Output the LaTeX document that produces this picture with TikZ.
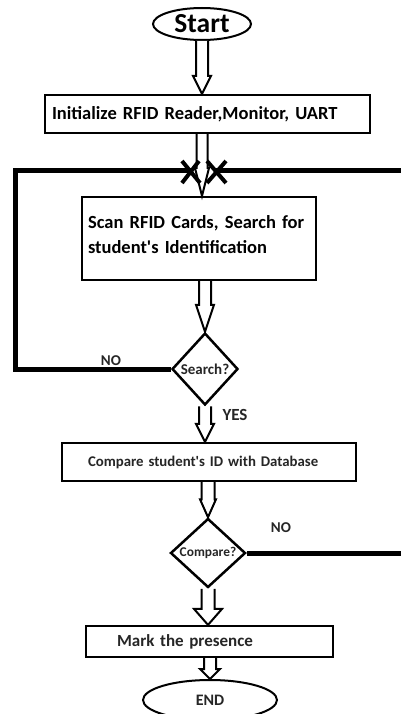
\documentclass[tikz,border=0pt]{standalone}
\usepackage{fontspec}
\setmainfont{Carlito}
\usetikzlibrary{shapes.geometric,calc}
\tikzset{
  box/.style={draw, line width=2.2pt, rectangle, inner ysep=0pt},
  ell/.style={draw, ellipse, line width=2pt, inner sep=0pt},
  dia/.style={draw, diamond, line width=2.5pt, inner sep=0pt},
  loopline/.style={line width=5pt},
  harrow/.style={draw, line width=2pt, fill=white, line join=miter},
  xmark/.style={line width=4pt},
  big/.style={font=\bfseries\fontsize{18.5}{25}\selectfont},
  lbl/.style={font=\bfseries\fontsize{15}{18}\selectfont, text=black!85},
}
\newcommand\harr[5]{\draw[harrow] ($(#1)+(-#3,0)$) -- ($(#2)+(-#3,-#5)$) -- ($(#2)+(-#4,-#5)$) -- (#2) -- ($(#2)+(#4,-#5)$) -- ($(#2)+(#3,-#5)$) -- ($(#1)+(#3,0)$);}
\begin{document}
\begin{tikzpicture}[x=1pt,y=-1pt]
\useasboundingbox[fill=white] (0,0) rectangle (400,714);
% nodes
\node[ell, minimum width=98pt, minimum height=32pt, font=\bfseries\fontsize{27.5}{30}\selectfont] (start) at (202,24) {Start};
\node[box, big, minimum width=325pt, minimum height=38pt, inner xsep=7pt, text width=311pt, align=left] (init) at (207.5,114) {Initialize RFID Reader,Monitor, UART};
\node[box, big, minimum width=234pt, minimum height=83pt, inner xsep=6pt, text width=222pt, text depth=33pt, align=left] (scan) at (199,238.5) {Scan RFID Cards, Search for\\student\textquotesingle s Identification};
\node[dia, minimum width=66pt, minimum height=72pt, font=\bfseries\fontsize{15}{17}\selectfont, text=black!85] (search) at (205,369) {Search?};
\node[box, font=\bfseries\fontsize{14.8}{17}\selectfont, text=black!85, minimum width=294pt, minimum height=38pt, inner xsep=26pt, text width=242pt, align=left] (compare) at (209,462) {Compare student\textquotesingle s ID with Database};
\node[dia, minimum width=75pt, minimum height=69pt, font=\bfseries\fontsize{13.4}{15}\selectfont, text=black!85] (comp) at (208,553) {Compare?};
\node[box, font=\bfseries\fontsize{17}{20}\selectfont, text=black!85, minimum width=247pt, minimum height=31pt, inner xsep=31pt, text width=185pt, align=left] (mark) at (209.5,641.5) {Mark the presence};
\node[ell, minimum width=134pt, minimum height=40pt, font=\bfseries\fontsize{16}{18}\selectfont, text=black!85] (end) at (210,700) {END};
% labels
\node[lbl] (no1) at (111,361) {NO};
\node[lbl, font=\bfseries\fontsize{17}{19}\selectfont] (yes) at (235,415) {YES};
\node[lbl] (no2) at (281,528) {NO};
% loop lines
\coordinate (lx) at (192,171);
\coordinate (rx) at (216,171);
\draw[loopline] (search.west) -| (15,171) -- (lx);
\draw[loopline] (comp.east) -| (412,171) -- (rx);
% hollow arrows
\harr{start.south}{init.north -| start.south}{6}{9}{18}
\harr{init.south -| start.south}{scan.north -| start.south}{5.5}{7}{28}
\harr{scan.south -| search.north}{search.north}{6}{9}{27}
\harr{search.south}{compare.north -| search.south}{6}{9}{18}
\harr{compare.south -| comp.north}{comp.north}{6.5}{8}{18}
\harr{comp.south}{mark.north -| comp.south}{6.5}{14}{16}
\harr{mark.south -| end.north}{end.north}{6}{10}{10}
% crossing marks
\draw[xmark] (182,161) -- (200,183) (182,183) -- (199,161);
\draw[xmark] (207,161) -- (226,183) (207,183) -- (226,161);
\end{tikzpicture}
\end{document}
